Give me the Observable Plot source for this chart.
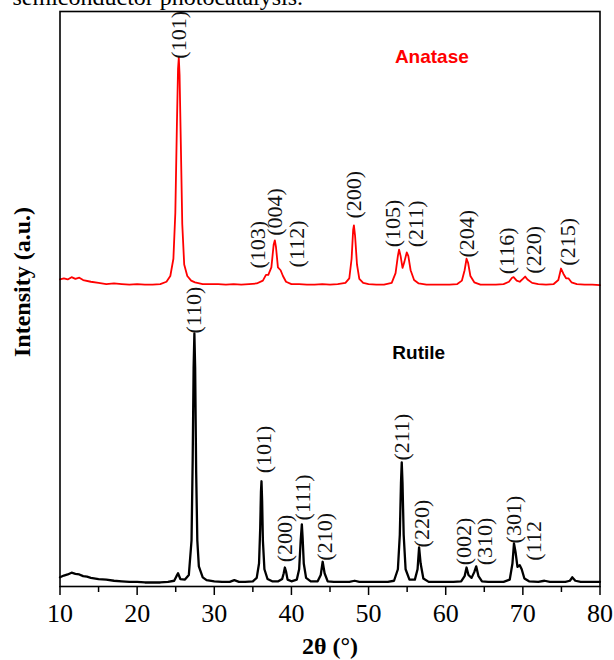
<!DOCTYPE html>
<html>
<head>
<meta charset="utf-8">
<script src="https://cdn.jsdelivr.net/npm/d3@7"></script>
<script src="https://cdn.jsdelivr.net/npm/@observablehq/plot@0.6"></script>
<style>
  html, body { margin: 0; padding: 0; background: #fff; }
  #chart { width: 614px; height: 660px; overflow: hidden; }
</style>
</head>
<body>
<div id="chart"></div>
<script>
// ---- data (2θ in degrees, intensity in arbitrary units) ----
const rutilePattern = [[10.0,1.6],[10.5,1.9],[11.0,2.1],[11.5,2.4],[12.0,2.2],[12.5,2.1],[13.0,1.8],[13.5,1.7],[14.0,1.5],[15.0,1.3],[16.0,1.2],[17.0,1.0],[18.0,0.9],[19.0,0.8],[20.0,0.8],[21.0,0.7],[22.0,0.7],[23.0,0.7],[24.0,0.8],[24.8,1.0],[25.1,1.8],[25.3,2.3],[25.6,1.3],[26.2,1.2],[26.7,2.0],[27.05,8],[27.2,22],[27.32,38],[27.42,44],[27.52,38],[27.65,20],[27.8,8],[28.0,3.5],[28.5,1.6],[29.0,1.1],[30,0.9],[31,0.8],[32,0.8],[32.6,1.1],[33.2,0.8],[34,0.8],[35,0.9],[35.5,1.5],[35.8,4],[35.95,10],[36.05,16.5],[36.12,18.3],[36.2,15],[36.3,8],[36.5,3],[36.9,1.3],[37.5,0.9],[38.3,0.9],[38.8,1.3],[39.0,2.3],[39.15,3.3],[39.3,2.6],[39.5,1.2],[40,0.9],[40.7,1.2],[41.0,3],[41.2,8],[41.35,10.8],[41.45,8.5],[41.6,4],[41.9,1.5],[42.5,0.9],[43.4,0.9],[43.8,2],[44.05,4.3],[44.3,2.3],[44.7,0.9],[45.5,0.8],[46.5,0.8],[47.5,0.8],[48.2,1.0],[48.8,0.8],[49.5,0.8],[50.5,0.8],[51.5,0.8],[52.5,0.8],[53.3,1.0],[53.8,3],[54.05,9],[54.2,18],[54.3,21.6],[54.4,18],[54.55,9],[54.8,3],[55.3,1.2],[56.0,1.2],[56.35,3],[56.55,6.8],[56.75,4],[57.1,1.4],[57.8,0.8],[59,0.8],[60,0.8],[61,0.8],[62,0.9],[62.45,1.8],[62.7,3.3],[62.95,2],[63.35,1.5],[63.7,2.5],[63.95,3.5],[64.25,1.8],[64.7,0.9],[65.5,0.8],[66.5,0.8],[67.5,0.8],[68.3,1.2],[68.65,4],[68.85,7.5],[69.05,6],[69.3,3.4],[69.6,3.7],[69.85,3.0],[70.2,1.4],[70.8,0.9],[72,0.8],[72.8,1.0],[73.5,0.8],[74.5,0.8],[75.5,0.8],[76.1,1.0],[76.4,1.6],[76.8,1.0],[77.5,0.8],[78.5,0.8],[79.3,0.8],[80,0.8]];

const anatasePattern = [[10.0,53.4],[10.5,53.6],[11.0,53.4],[11.5,53.8],[12.0,53.5],[12.5,53.7],[13.0,53.3],[14.0,53.0],[15.0,52.8],[16.0,52.6],[17.0,52.7],[18.0,52.6],[19,52.5],[20,52.6],[21,52.5],[22,52.5],[23,52.6],[23.8,53.0],[24.3,54.0],[24.7,57],[24.95,65],[25.15,80],[25.3,90],[25.4,92],[25.5,89],[25.65,78],[25.85,63],[26.1,56],[26.5,54],[27.0,53.2],[27.5,52.9],[28.5,52.6],[29.5,52.6],[30.5,52.6],[31.5,52.5],[32.5,52.6],[33.5,52.5],[34.5,52.6],[35.5,52.7],[36.3,53.2],[36.7,54.2],[37.0,54.2],[37.4,55.5],[37.7,59.5],[37.85,60.2],[38.0,59],[38.25,55.5],[38.6,55.0],[38.9,54],[39.3,53],[40,52.6],[41,52.6],[42,52.5],[43,52.5],[44,52.6],[45,52.5],[46,52.6],[47,52.8],[47.5,53.6],[47.8,57],[48.0,62],[48.1,62.8],[48.25,61],[48.5,56],[48.8,53.5],[49.3,52.8],[50,52.6],[51,52.5],[52,52.5],[53,52.8],[53.5,54.5],[53.8,57.5],[53.95,58.6],[54.15,57.5],[54.4,55.4],[54.65,56.5],[54.95,58.1],[55.15,57.5],[55.45,55],[55.9,53.3],[56.5,52.7],[57.5,52.5],[58.5,52.5],[59.5,52.5],[60.5,52.5],[61.5,52.6],[62.1,53.2],[62.45,55],[62.7,57.0],[62.9,56.3],[63.2,54],[63.7,52.9],[64.5,52.5],[65.5,52.5],[66.5,52.5],[67.5,52.6],[68.2,53],[68.6,53.7],[68.8,53.8],[69.2,53.2],[69.6,53.0],[70.0,53.5],[70.3,53.9],[70.6,53.4],[71.2,52.8],[72,52.6],[73,52.5],[74,52.6],[74.6,53.3],[74.95,55.3],[75.25,54.4],[75.6,53.6],[75.9,53.6],[76.3,52.9],[77,52.6],[78,52.5],[79,52.5],[80,52.4]];

const anataseHkl = ["(101)","(103)","(004)","(112)","(200)","(105)","(211)","(204)","(116)","(220)","(215)"];
const anataseHklAt = [[25.46,91.8],[35.7,55.3],[37.9,61.0],[40.7,55.5],[48.1,64.0],[53.1,59.0],[56.2,59.0],[62.7,57.2],[67.9,54.3],[71.4,54.4],[75.9,55.8]];
const rutileHkl = ["(110)","(101)","(200)","(111)","(210)","(211)","(220)","(002)","(310)","(301)","(112"];
const rutileHklAt = [[27.4,44.0],[36.4,19.7],[39.2,4.2],[41.5,11.5],[44.3,4.5],[54.3,21.9],[56.9,6.8],[62.3,3.7],[65.1,3.7],[68.8,7.5],[71.4,4.5]];

const seriesNames = ["Anatase", "Rutile"];
const seriesColors = ["#ff0000", "#000000"];
const seriesNameAt = [[58.2, 91.1], [56.5, 39.5]];

const xTicks = [10, 20, 30, 40, 50, 60, 70, 80];
const xMinorTicks = [15, 25, 35, 45, 55, 65, 75];
const xTitle = "2θ (°)";
const yTitle = "Intensity (a.u.)";
const captionText = "semiconductor photocatalysis.";

// ---- tables ----
const toRows = (pairs) => pairs.map(([t, i]) => ({t, i}));
const rutileRows = toRows(rutilePattern);
const anataseRows = toRows(anatasePattern);
const hklRows = [
  ...anataseHkl.map((h, k) => ({h, t: anataseHklAt[k][0], i: anataseHklAt[k][1]})),
  ...rutileHkl.map((h, k) => ({h, t: rutileHklAt[k][0], i: rutileHklAt[k][1]}))
];
const nameRows = seriesNames.map((n, k) => ({n, c: seriesColors[k], t: seriesNameAt[k][0], i: seriesNameAt[k][1]}));

const serif = "Liberation Serif, Times New Roman, serif";
const sans = "Liberation Sans, Arial, sans-serif";

const chart = Plot.plot({
  width: 614,
  height: 660,
  marginTop: 11,
  marginBottom: 74,
  marginLeft: 59.5,
  marginRight: 14.5,
  style: {fontFamily: serif, background: "#fff", color: "#000", overflow: "visible"},
  x: {domain: [10, 80], axis: null},
  y: {domain: [0, 100], axis: null},
  marks: [
    Plot.line(anataseRows, {x: "t", y: "i", stroke: seriesColors[0], strokeWidth: 1.8, strokeLinejoin: "round"}),
    Plot.line(rutileRows, {x: "t", y: "i", stroke: seriesColors[1], strokeWidth: 2.3, strokeLinejoin: "round"}),
    Plot.text(hklRows, {x: "t", y: "i", text: "h", rotate: -90, textAnchor: "start", lineAnchor: "middle", fontSize: 22, fontFamily: serif, fill: "#111"}),
    Plot.text(nameRows, {x: "t", y: "i", text: "n", fill: "c", textAnchor: "middle", lineAnchor: "bottom", fontSize: 19, fontWeight: "bold", fontFamily: sans}),
    Plot.frame({stroke: "#000", strokeWidth: 1.6}),
    Plot.axisX({ticks: xTicks, tickSize: 9, tickPadding: 8, strokeWidth: 1.5, fontSize: 26, fontFamily: serif, label: null, tickFormat: d => String(d)}),
    Plot.axisX({ticks: xMinorTicks, tickSize: 6, strokeWidth: 1.5, label: null, tickFormat: () => ""}),
    Plot.text([xTitle], {frameAnchor: "bottom", dy: 60, lineAnchor: "middle", fontSize: 24, fontWeight: "bold", fontFamily: serif}),
    Plot.text([yTitle], {frameAnchor: "left", rotate: -90, dx: -38, dy: -17, lineAnchor: "middle", textAnchor: "middle", fontSize: 24, fontWeight: "bold", fontFamily: serif}),
    Plot.text([captionText], {frameAnchor: "top-left", dx: -47.5, dy: -7, textAnchor: "start", lineAnchor: "bottom", fontSize: 24, fontFamily: serif})
  ]
});
// make sure each text really uses its intended family
d3.select(chart).selectAll("text").each(function() {
  const isSeries = seriesNames.includes(this.textContent);
  this.style.fontFamily = isSeries ? "'Liberation Sans', Arial, sans-serif" : "'Liberation Serif', 'Times New Roman', serif";
});
document.getElementById("chart").appendChild(chart);
</script>
</body>
</html>
